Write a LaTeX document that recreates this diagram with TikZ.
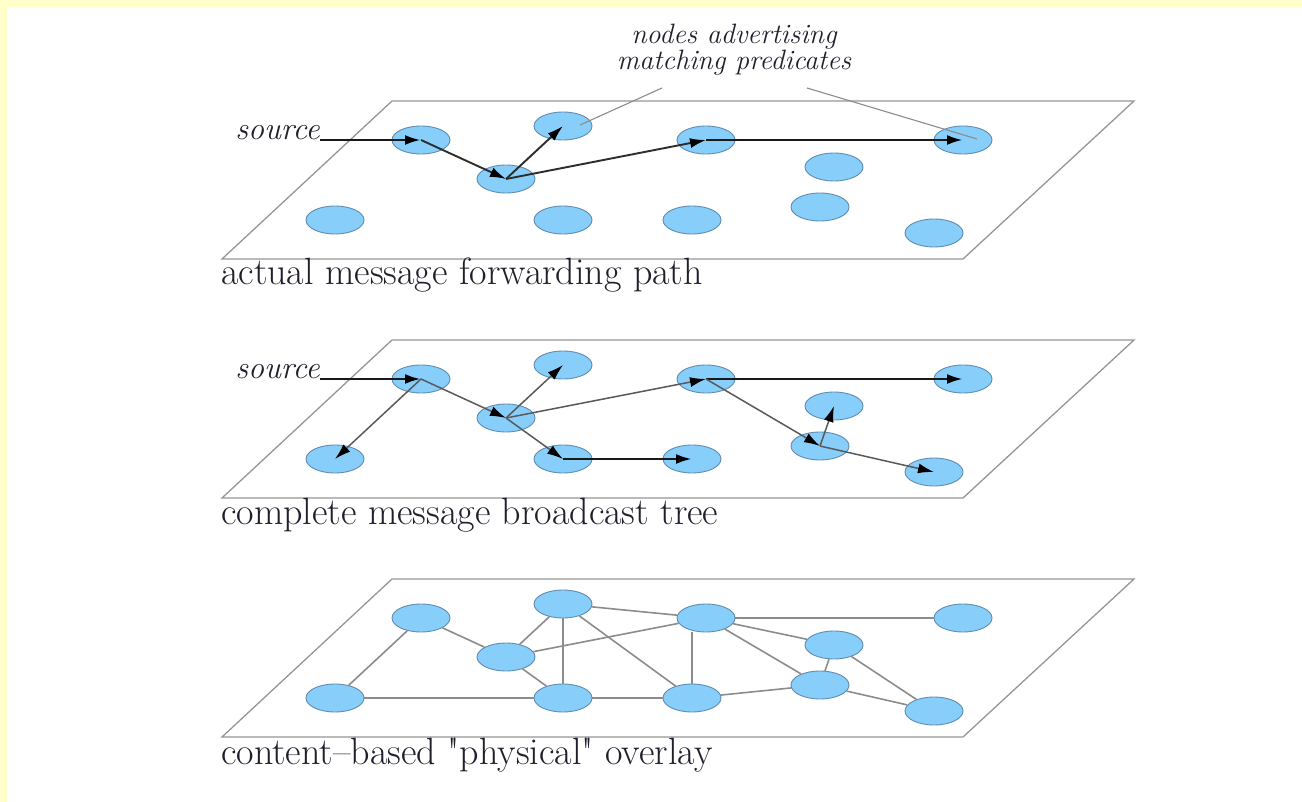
\documentclass[tikz,border=0pt]{standalone}
\usepackage{fontspec}
\usetikzlibrary{shapes.geometric,arrows.meta,calc}
\definecolor{bgyellow}{RGB}{255,255,204}
\definecolor{blobfill}{RGB}{135,206,250}
\definecolor{blobdraw}{RGB}{95,140,175}
\definecolor{planegray}{RGB}{150,150,150}
\definecolor{inkdark}{RGB}{25,25,25}
\definecolor{arrowdark}{RGB}{45,45,45}
\definecolor{arrowgray}{RGB}{90,90,90}
\definecolor{linkgray}{RGB}{140,140,140}
\definecolor{textink}{RGB}{35,30,45}
\tikzset{
  plane/.style={draw=planegray, line width=1.3pt},
  blob/.style={ellipse, fill=blobfill, draw=blobdraw, line width=0.9pt,
    minimum width=58pt, minimum height=28pt, inner sep=0pt},
  tipped/.style={-{Latex[length=16pt,width=10pt,color=black]}},
  thickarrow/.style={tipped, draw=inkdark, line width=2.8pt},
  darkarrow/.style={tipped, draw=arrowdark, line width=1.9pt},
  grayarrow/.style={tipped, draw=arrowgray, line width=1.5pt},
  link/.style={draw=linkgray, line width=1.6pt},
  noteline/.style={draw=linkgray, line width=1.1pt},
  caption/.style={anchor=base west, inner sep=0pt, text=textink,
    font=\fontsize{38}{44}\selectfont},
  italabel/.style={inner sep=0pt, text=textink,
    font=\fontsize{28}{26}\selectfont\itshape},
  srclabel/.style={italabel, anchor=base east,
    font=\fontsize{32}{30}\selectfont\itshape}
}
\begin{document}
\begin{tikzpicture}[x=1pt,y=-1pt]
\useasboundingbox (0,0) rectangle (1302,802);
\fill[bgyellow] (0,0) rectangle (1302,802);
\fill[white] (7,7) rectangle (1302,802);

\foreach \L/\dy in {1/0,2/239,3/478}{
  \begin{scope}[shift={(0,\dy)}]
    \draw[plane] (392,101) -- (1134,101) -- (963,259) -- (222,259) -- cycle;
    \node[blob] (a\L) at (421,140) {};
    \node[blob] (b\L) at (506,179) {};
    \node[blob] (c\L) at (563,126) {};
    \node[blob] (d\L) at (706,140) {};
    \node[blob] (e\L) at (963,140) {};
    \node[blob] (f\L) at (834,167) {};
    \node[blob] (g\L) at (820,207) {};
    \node[blob] (h\L) at (692,220) {};
    \node[blob] (i\L) at (934,233) {};
    \node[blob] (j\L) at (335,220) {};
    \node[blob] (k\L) at (563,220) {};
  \end{scope}
}

% layer 1: actual message forwarding path
\node[srclabel] (src1) at (320,140) {source};
\node[italabel, anchor=north, align=center] (note) at (734,24)
  {nodes advertising\\matching predicates};
\coordinate (n1) at (662,88);
\coordinate (n2) at (807,88);
\draw[noteline] (n1) -- ($(c1)+(17,-1)$);
\draw[noteline] (n2) -- ($(e1)+(14,-1)$);
\draw[thickarrow] (src1.base east) -- (a1.center);
\draw[darkarrow] (a1.center) -- (b1.center);
\draw[darkarrow] (b1.center) -- (c1.center);
\draw[darkarrow] (b1.center) -- (d1.center);
\draw[thickarrow] (d1.center) -- (e1.center);
\node[caption] (cap1) at (221,285) {actual message forwarding path};

% layer 2: complete message broadcast tree
\node[srclabel] (src2) at (320,379) {source};
\draw[thickarrow] (src2.base east) -- (a2.center);
\draw[grayarrow] (a2.center) -- (j2.center);
\draw[grayarrow] (a2.center) -- (b2.center);
\draw[grayarrow] (b2.center) -- (c2.center);
\draw[grayarrow] (b2.center) -- (k2.center);
\draw[grayarrow] (b2.center) -- (d2.center);
\draw[thickarrow] (k2.center) -- (h2.center);
\draw[thickarrow] (d2.center) -- (e2.center);
\draw[grayarrow] (d2.center) -- (g2.center);
\draw[grayarrow] (g2.center) -- (f2.center);
\draw[grayarrow] (g2.center) -- (i2.center);
\node[caption] (cap2) at (221,524) {complete message broadcast tree};

% layer 3: content-based physical overlay
\draw[link] (j3) -- (a3);
\draw[link] (a3) -- (b3);
\draw[link] (b3) -- (c3);
\draw[link] (c3) -- (k3);
\draw[link] (b3) -- (k3);
\draw[link] (j3) -- (k3);
\draw[link] (k3) -- (h3);
\draw[link] (b3) -- (d3);
\draw[link] (c3) -- (d3);
\draw[link] (c3) -- (h3);
\draw[link] (d3.south -| h3) -- (h3);
\draw[link] (d3) -- (e3);
\draw[link] (d3) -- (f3);
\draw[link] (d3) -- (g3);
\draw[link] (f3) -- (g3);
\draw[link] (f3) -- (i3);
\draw[link] (g3) -- (i3);
\draw[link] (h3) -- (g3);
\node[caption] (cap3) at (221,764) {content–based \textquotedbl physical\textquotedbl{} overlay};
\end{tikzpicture}
\end{document}
